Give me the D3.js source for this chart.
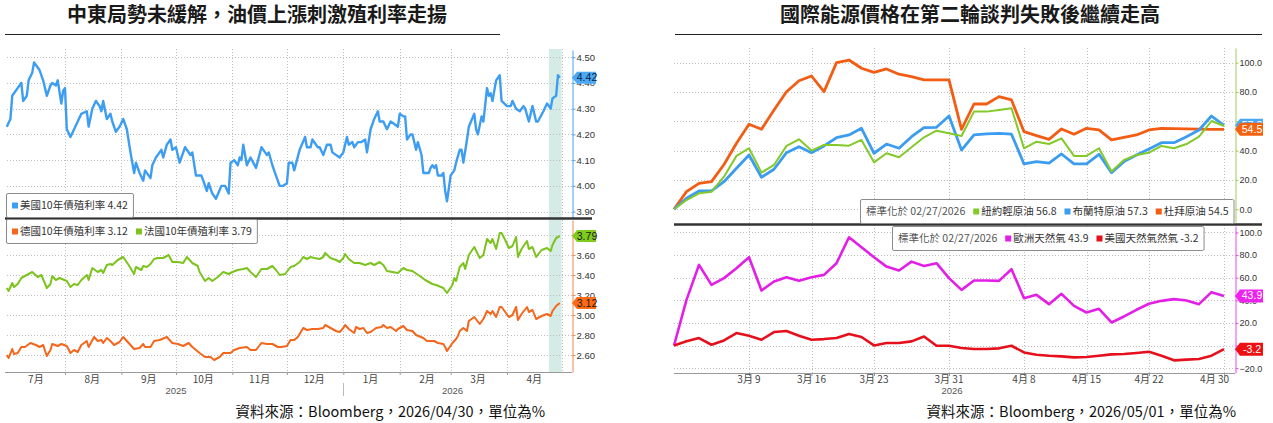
<!DOCTYPE html>
<html>
<head>
<meta charset="utf-8">
<script src="https://cdn.jsdelivr.net/npm/d3@7"></script>
<style>
  body { margin: 0; background: #fff; }
  svg { display: block; }
</style>
</head>
<body>
<script>
// ---------- left chart data (10y yields, %) ----------
const usYield = [
  ["2025-06-30",4.23],["2025-07-02",4.26],["2025-07-03",4.35],["2025-07-08",4.40],["2025-07-09",4.33],["2025-07-11",4.35],
  ["2025-07-12",4.41],["2025-07-14",4.44],["2025-07-15",4.48],["2025-07-17",4.46],["2025-07-18",4.45],["2025-07-20",4.41],
  ["2025-07-22",4.35],["2025-07-24",4.39],["2025-07-25",4.40],["2025-07-27",4.39],["2025-07-28",4.41],["2025-07-30",4.32],
  ["2025-07-31",4.37],["2025-08-01",4.38],["2025-08-02",4.22],["2025-08-04",4.19],["2025-08-06",4.22],["2025-08-08",4.25],
  ["2025-08-10",4.28],["2025-08-13",4.29],["2025-08-14",4.23],["2025-08-16",4.30],["2025-08-18",4.33],["2025-08-20",4.31],
  ["2025-08-21",4.29],["2025-08-22",4.33],["2025-08-24",4.26],["2025-08-26",4.28],["2025-08-27",4.25],["2025-08-29",4.21],
  ["2025-08-31",4.23],["2025-09-02",4.26],["2025-09-04",4.22],["2025-09-06",4.13],["2025-09-08",4.05],["2025-09-09",4.09],
  ["2025-09-11",4.05],["2025-09-13",4.02],["2025-09-14",4.06],["2025-09-17",4.03],["2025-09-18",4.08],["2025-09-20",4.11],
  ["2025-09-23",4.14],["2025-09-24",4.11],["2025-09-26",4.16],["2025-09-28",4.18],["2025-09-29",4.14],["2025-10-01",4.15],
  ["2025-10-03",4.09],["2025-10-06",4.15],["2025-10-09",4.12],["2025-10-10",4.13],["2025-10-12",4.04],["2025-10-15",4.04],
  ["2025-10-16",4.02],["2025-10-18",3.98],["2025-10-19",4.01],["2025-10-21",3.97],["2025-10-23",3.95],["2025-10-26",4.00],
  ["2025-10-28",4.00],["2025-10-30",3.97],["2025-10-31",4.09],["2025-11-02",4.10],["2025-11-04",4.08],["2025-11-05",4.11],
  ["2025-11-06",4.10],["2025-11-07",4.16],["2025-11-09",4.08],["2025-11-11",4.11],["2025-11-14",4.07],["2025-11-17",4.15],
  ["2025-11-19",4.13],["2025-11-20",4.12],["2025-11-21",4.13],["2025-11-23",4.08],["2025-11-25",4.04],["2025-11-27",4.00],
  ["2025-11-29",4.00],["2025-12-01",4.01],["2025-12-02",4.09],["2025-12-04",4.09],["2025-12-05",4.06],["2025-12-08",4.14],
  ["2025-12-11",4.19],["2025-12-12",4.15],["2025-12-14",4.15],["2025-12-15",4.18],["2025-12-18",4.15],["2025-12-19",4.15],
  ["2025-12-21",4.12],["2025-12-23",4.16],["2025-12-25",4.16],["2025-12-26",4.13],["2025-12-30",4.11],["2026-01-01",4.13],
  ["2026-01-03",4.19],["2026-01-04",4.16],["2026-01-06",4.17],["2026-01-07",4.15],["2026-01-09",4.17],["2026-01-11",4.17],
  ["2026-01-13",4.18],["2026-01-14",4.13],["2026-01-16",4.22],["2026-01-18",4.26],["2026-01-20",4.29],["2026-01-21",4.25],
  ["2026-01-23",4.25],["2026-01-25",4.22],["2026-01-27",4.25],["2026-01-29",4.24],["2026-01-31",4.23],["2026-02-01",4.28],
  ["2026-02-03",4.27],["2026-02-04",4.27],["2026-02-05",4.18],["2026-02-07",4.20],["2026-02-08",4.20],["2026-02-10",4.14],
  ["2026-02-11",4.17],["2026-02-13",4.12],["2026-02-14",4.05],["2026-02-17",4.05],["2026-02-18",4.07],["2026-02-19",4.08],
  ["2026-02-20",4.07],["2026-02-21",4.08],["2026-02-22",4.04],["2026-02-24",4.04],["2026-02-25",4.05],["2026-02-26",3.98],
  ["2026-02-27",3.94],["2026-03-01",4.04],["2026-03-03",4.06],["2026-03-04",4.09],["2026-03-06",4.14],["2026-03-07",4.14],
  ["2026-03-08",4.09],["2026-03-10",4.18],["2026-03-11",4.23],["2026-03-14",4.28],["2026-03-15",4.22],["2026-03-16",4.20],
  ["2026-03-18",4.27],["2026-03-19",4.25],["2026-03-21",4.38],["2026-03-22",4.35],["2026-03-23",4.36],["2026-03-24",4.33],
  ["2026-03-26",4.41],["2026-03-28",4.43],["2026-03-29",4.33],["2026-04-01",4.31],["2026-04-03",4.31],["2026-04-04",4.33],
  ["2026-04-06",4.30],["2026-04-08",4.29],["2026-04-10",4.31],["2026-04-11",4.30],["2026-04-13",4.25],["2026-04-15",4.31],
  ["2026-04-17",4.25],["2026-04-18",4.25],["2026-04-21",4.29],["2026-04-23",4.32],["2026-04-25",4.30],["2026-04-26",4.34],
  ["2026-04-28",4.35],["2026-04-29",4.43],["2026-04-30",4.42]
]

const frYield = [
  ["2025-06-30",3.27],["2025-07-01",3.24],["2025-07-03",3.32],["2025-07-04",3.28],["2025-07-06",3.31],["2025-07-08",3.37],
  ["2025-07-11",3.40],["2025-07-14",3.43],["2025-07-17",3.38],["2025-07-19",3.40],["2025-07-22",3.27],["2025-07-24",3.31],
  ["2025-07-25",3.39],["2025-07-27",3.35],["2025-07-29",3.37],["2025-08-02",3.34],["2025-08-04",3.28],["2025-08-06",3.31],
  ["2025-08-08",3.30],["2025-08-10",3.35],["2025-08-13",3.40],["2025-08-14",3.35],["2025-08-16",3.47],["2025-08-19",3.43],
  ["2025-08-21",3.45],["2025-08-22",3.42],["2025-08-24",3.50],["2025-08-26",3.51],["2025-08-27",3.50],["2025-08-30",3.55],
  ["2025-09-02",3.58],["2025-09-05",3.50],["2025-09-08",3.41],["2025-09-09",3.48],["2025-09-12",3.45],["2025-09-13",3.49],
  ["2025-09-15",3.48],["2025-09-17",3.51],["2025-09-19",3.56],["2025-09-21",3.57],["2025-09-24",3.57],["2025-09-27",3.60],
  ["2025-09-29",3.53],["2025-10-02",3.53],["2025-10-05",3.52],["2025-10-07",3.58],["2025-10-10",3.52],["2025-10-13",3.49],
  ["2025-10-14",3.43],["2025-10-17",3.34],["2025-10-19",3.37],["2025-10-21",3.34],["2025-10-24",3.38],["2025-10-27",3.43],
  ["2025-10-30",3.41],["2025-11-01",3.43],["2025-11-04",3.45],["2025-11-07",3.46],["2025-11-09",3.47],["2025-11-11",3.43],
  ["2025-11-14",3.38],["2025-11-17",3.46],["2025-11-20",3.46],["2025-11-23",3.49],["2025-11-25",3.45],["2025-11-27",3.40],
  ["2025-11-30",3.41],["2025-12-03",3.48],["2025-12-05",3.49],["2025-12-08",3.53],["2025-12-10",3.58],["2025-12-12",3.56],
  ["2025-12-14",3.58],["2025-12-16",3.57],["2025-12-19",3.56],["2025-12-21",3.58],["2025-12-22",3.62],["2025-12-25",3.57],
  ["2025-12-28",3.55],["2025-12-30",3.53],["2026-01-01",3.57],["2026-01-02",3.61],["2026-01-04",3.56],["2026-01-07",3.52],
  ["2026-01-10",3.52],["2026-01-13",3.50],["2026-01-16",3.52],["2026-01-18",3.50],["2026-01-21",3.53],["2026-01-23",3.50],
  ["2026-01-25",3.44],["2026-01-28",3.43],["2026-01-31",3.42],["2026-02-03",3.47],["2026-02-05",3.45],["2026-02-08",3.44],
  ["2026-02-12",3.39],["2026-02-15",3.35],["2026-02-19",3.31],["2026-02-21",3.30],["2026-02-25",3.27],["2026-02-27",3.22],
  ["2026-03-02",3.30],["2026-03-03",3.37],["2026-03-04",3.34],["2026-03-06",3.48],["2026-03-08",3.52],["2026-03-09",3.46],
  ["2026-03-11",3.60],["2026-03-14",3.68],["2026-03-17",3.57],["2026-03-19",3.60],["2026-03-21",3.76],["2026-03-23",3.72],
  ["2026-03-24",3.76],["2026-03-26",3.66],["2026-03-28",3.82],["2026-03-29",3.82],["2026-03-31",3.75],["2026-04-02",3.67],
  ["2026-04-04",3.69],["2026-04-06",3.78],["2026-04-07",3.58],["2026-04-09",3.66],["2026-04-12",3.74],["2026-04-13",3.66],
  ["2026-04-15",3.68],["2026-04-17",3.58],["2026-04-20",3.65],["2026-04-23",3.67],["2026-04-25",3.64],["2026-04-26",3.70],
  ["2026-04-28",3.77],["2026-04-30",3.79]
]

const deYield = [
  ["2025-06-30",2.60],["2025-07-01",2.57],["2025-07-03",2.66],["2025-07-04",2.61],["2025-07-06",2.62],["2025-07-08",2.68],
  ["2025-07-10",2.68],["2025-07-13",2.72],["2025-07-16",2.70],["2025-07-18",2.68],["2025-07-20",2.70],["2025-07-22",2.59],
  ["2025-07-24",2.65],["2025-07-25",2.71],["2025-07-28",2.69],["2025-07-30",2.71],["2025-08-02",2.69],["2025-08-04",2.62],
  ["2025-08-06",2.65],["2025-08-08",2.63],["2025-08-10",2.70],["2025-08-13",2.74],["2025-08-14",2.68],["2025-08-17",2.78],
  ["2025-08-19",2.74],["2025-08-21",2.75],["2025-08-22",2.72],["2025-08-24",2.77],["2025-08-26",2.74],["2025-08-28",2.70],
  ["2025-08-31",2.73],["2025-09-02",2.78],["2025-09-05",2.72],["2025-09-08",2.66],["2025-09-11",2.67],["2025-09-13",2.71],
  ["2025-09-14",2.68],["2025-09-17",2.68],["2025-09-19",2.74],["2025-09-22",2.75],["2025-09-26",2.78],["2025-09-29",2.72],
  ["2025-10-02",2.71],["2025-10-05",2.69],["2025-10-08",2.72],["2025-10-10",2.68],["2025-10-14",2.62],["2025-10-17",2.58],
  ["2025-10-20",2.58],["2025-10-22",2.55],["2025-10-25",2.58],["2025-10-27",2.62],["2025-10-31",2.62],["2025-11-02",2.65],
  ["2025-11-05",2.67],["2025-11-09",2.68],["2025-11-11",2.65],["2025-11-14",2.65],["2025-11-17",2.72],["2025-11-20",2.71],
  ["2025-11-23",2.71],["2025-11-26",2.68],["2025-11-28",2.68],["2025-12-01",2.69],["2025-12-03",2.75],["2025-12-05",2.75],
  ["2025-12-07",2.78],["2025-12-10",2.87],["2025-12-12",2.85],["2025-12-15",2.86],["2025-12-18",2.86],["2025-12-21",2.87],
  ["2025-12-22",2.90],["2025-12-25",2.87],["2025-12-28",2.84],["2025-12-30",2.83],["2026-01-01",2.87],["2026-01-02",2.90],
  ["2026-01-04",2.86],["2026-01-07",2.82],["2026-01-08",2.88],["2026-01-10",2.86],["2026-01-12",2.87],["2026-01-14",2.82],
  ["2026-01-16",2.83],["2026-01-19",2.87],["2026-01-22",2.88],["2026-01-23",2.90],["2026-01-25",2.87],["2026-01-27",2.88],
  ["2026-01-30",2.84],["2026-01-31",2.86],["2026-02-03",2.89],["2026-02-05",2.85],["2026-02-08",2.84],["2026-02-10",2.80],
  ["2026-02-14",2.77],["2026-02-16",2.74],["2026-02-20",2.74],["2026-02-22",2.72],["2026-02-25",2.71],["2026-02-26",2.68],
  ["2026-02-27",2.64],["2026-03-02",2.72],["2026-03-04",2.76],["2026-03-05",2.79],["2026-03-06",2.84],["2026-03-08",2.87],
  ["2026-03-10",2.84],["2026-03-11",2.94],["2026-03-14",2.98],["2026-03-17",2.91],["2026-03-19",2.96],["2026-03-21",3.04],
  ["2026-03-23",3.01],["2026-03-24",3.04],["2026-03-26",2.98],["2026-03-28",3.08],["2026-03-29",3.08],["2026-03-31",3.03],
  ["2026-04-02",2.98],["2026-04-04",3.00],["2026-04-06",3.08],["2026-04-07",2.95],["2026-04-09",3.01],["2026-04-12",3.08],
  ["2026-04-13",3.03],["2026-04-15",3.05],["2026-04-17",2.96],["2026-04-20",2.99],["2026-04-23",3.01],["2026-04-25",2.99],
  ["2026-04-26",3.04],["2026-04-28",3.09],["2026-04-30",3.12]
]

const usTicks = [3.9, 4.0, 4.1, 4.2, 4.3, 4.4, 4.5]
const euTicks = [2.6, 2.8, 3.0, 3.2, 3.4, 3.6, 3.8]
const monthLabels = ['7月', '8月', '9月', '10月', '11月', '12月', '1月', '2月', '3月', '4月']

// ---------- right chart data (normalised to 02/27/2026, %) ----------
const oilDates = [
  "2026-02-27",
  "2026-03-02","2026-03-03","2026-03-04","2026-03-05","2026-03-06",
  "2026-03-09","2026-03-10","2026-03-11","2026-03-12","2026-03-13",
  "2026-03-16","2026-03-17","2026-03-18","2026-03-19","2026-03-20",
  "2026-03-23","2026-03-24","2026-03-25","2026-03-26","2026-03-27",
  "2026-03-30","2026-03-31","2026-04-01","2026-04-02","2026-04-03",
  "2026-04-06","2026-04-07","2026-04-08","2026-04-09","2026-04-10",
  "2026-04-13","2026-04-14","2026-04-15","2026-04-16","2026-04-17",
  "2026-04-20","2026-04-21","2026-04-22","2026-04-23","2026-04-24",
  "2026-04-27","2026-04-28","2026-04-29","2026-04-30"
]
const wti = [0,6.3,10.9,12,22.2,36.4,41.6,25,30.2,43.2,47.7,40,43.9,43.9,43.4,47.3,32,38.2,35.5,42.3,49.1,53.6,51.8,50,
  66.6,66.6,67.7,68.9,41.6,46.1,44.5,48.4,36.4,36.4,41.6,25.7,33.6,37,38.6,43.2,41.6,44.5,49.5,60.2,56.8]
const brent = [0,7.5,12.5,12.5,18.8,28,37,21.8,27.3,38.6,42.7,38.6,43.2,48.8,50.7,55.2,38.2,44.5,41.6,49.5,55.7,55.9,63.6,40.4,
  50.7,51.4,51.8,51.2,30.9,32.5,31.4,37.7,30.9,30.9,37.5,25,32.5,37,41.1,45.4,45.4,49.5,54.1,63.6,57.3]
const dubai = [0,12,17.7,18.8,30.5,45,58,54.6,67.7,80.2,87.7,90.9,80.2,100,101.8,96.2,93.4,95.7,92.1,90.5,88.2,88.2,88.2,54.5,
  71.8,71.8,76.8,74.6,52.9,50.2,47.7,54.8,51.2,55.2,54.1,47.3,49.1,50.7,54.1,55.2,55,54.8,54.6,54.5,54.5]
const euGas = [0,40.4,71.3,53.6,59.6,68.4,78.1,48.6,56.6,60.4,57.2,60.4,62.5,72.8,95.7,86.9,78.1,69.8,66.3,74.2,70.4,72.8,59.6,49.2,
  57.5,57.5,57.2,67.5,41.9,44.8,36.6,45.7,35.1,29.2,32.5,20.4,25.7,31.6,36.9,39.5,41,39.8,36.6,47.2,43.9]
const usGas = [0,3.7,6.6,0.7,4.5,11,8.6,5.1,11.9,12.8,8.6,5.1,5.7,6.6,10.1,7.5,0.1,2.2,2.2,3.7,8,-0.2,-0.2,-2.2,
  -3.1,-3.1,-2.5,-0.2,-6.1,-8.1,-9,-9.6,-10.5,-10.2,-9,-7.8,-7.5,-6.6,-5.5,-9,-13.1,-12.5,-11.9,-9,-3.2]

const oilTicks = [0, 20, 40, 60, 80, 100]
const gasTicks = [-20, 0, 20, 40, 60, 80, 100]
const oilTickDates = ["2026-03-09","2026-03-16","2026-03-23","2026-03-31","2026-04-08","2026-04-15","2026-04-22","2026-04-30"]
const oilTickLabels = ['3月 9', '3月 16', '3月 23', '3月 31', '4月 8', '4月 15', '4月 22', '4月 30']


const FONT = '"Noto Sans CJK TC", "Noto Sans", sans-serif'
const NUM_FONT = '"Liberation Sans", Arial, sans-serif'
const GRID = '#bfbfbf'

const parse = d3.timeParse('%Y-%m-%d')
const toPoints = rows => rows.map(r => ({date: parse(r[0]), value: r[1]}))

const svg = d3.select('body').append('svg')
    .attr('width', 1273)
    .attr('height', 423)


function drawTitle(text, cx, x0, x1){
    svg.append('text')
        .attr('x', cx).attr('y', 22)
        .attr('text-anchor', 'middle')
        .style('font-family', FONT)
        .style('font-size', '20px')
        .style('font-weight', 700)
        .attr('fill', '#1a1a1a')
        .text(text)
    svg.append('line')
        .attr('x1', x0).attr('x2', x1)
        .attr('y1', 34.5).attr('y2', 34.5)
        .attr('stroke', '#222').attr('stroke-width', 1.2)
}

function hGrid(y, ticks, x0, x1){
    svg.append('g').selectAll('line')
        .data(ticks)
        .join('line')
        .attr('x1', x0).attr('x2', x1)
        .attr('y1', d => Math.round(y(d)) + 0.5)
        .attr('y2', d => Math.round(y(d)) + 0.5)
        .attr('stroke', GRID)
        .attr('stroke-dasharray', '1,2')
}

function vGrid(xs, y0, y1){
    svg.append('g').selectAll('line')
        .data(xs)
        .join('line')
        .attr('x1', d => Math.round(d) + 0.5).attr('x2', d => Math.round(d) + 0.5)
        .attr('y1', y0).attr('y2', y1)
        .attr('stroke', GRID)
        .attr('stroke-dasharray', '1,2')
}

function rightAxis(y, ticks, x, color, fmt, size){
    const g = svg.append('g')
        .attr('transform', `translate(${x + 0.5},0)`)
        .call(d3.axisRight(y).tickValues(ticks).tickSize(3).tickSizeOuter(0).tickPadding(1).tickFormat(fmt))
    g.select('.domain').attr('stroke', color)
    g.selectAll('.tick line').attr('stroke', color)
    g.selectAll('.tick text')
        .attr('fill', '#333')
        .style('font-family', NUM_FONT)
        .style('font-size', size + 'px')
}

function drawSeries(points, x, y, color, width){
    const line = d3.line()
        .x(d => x(d.date))
        .y(d => y(d.value))
    svg.append('path')
        .datum(points)
        .attr('d', line)
        .attr('fill', 'none')
        .attr('stroke', color)
        .attr('stroke-width', width)
        .attr('stroke-linejoin', 'round')
}

function valueTag(x, y, label, fill, textColor, w, h){
    svg.append('path')
        .attr('d', `M${x},${y} L${x + 5},${y - h / 2} L${x + w},${y - h / 2} L${x + w},${y + h / 2} L${x + 5},${y + h / 2} Z`)
        .attr('fill', fill)
    svg.append('text')
        .attr('x', x + 3 + w / 2).attr('y', y + 3.6)
        .attr('text-anchor', 'middle')
        .style('font-family', NUM_FONT)
        .style('font-size', '10.5px')
        .attr('fill', textColor)
        .text(label)
}

function legend(x, y, h, items, note){
    const g = svg.append('g')
    const box = g.append('rect')
        .attr('x', x + 0.5).attr('y', y + 0.5)
        .attr('height', h)
        .attr('rx', 1.5)
        .attr('fill', '#fff')
        .attr('stroke', '#8c8c8c')
    let cx = x + 6
    const base = y + h / 2 + 4
    if(note){
        const t = g.append('text')
            .attr('x', cx).attr('y', base)
            .style('font-family', FONT).style('font-size', '10.5px')
            .attr('fill', '#555')
            .text(note)
        cx += t.node().getComputedTextLength() + 8
    }
    items.forEach(it => {
        g.append('rect')
            .attr('x', cx).attr('y', y + h / 2 - 2.5)
            .attr('width', 6).attr('height', 6)
            .attr('fill', it.color)
        const t = g.append('text')
            .attr('x', cx + 8).attr('y', base)
            .style('font-family', FONT).style('font-size', '10.5px')
            .attr('fill', '#333')
            .text(it.label)
        cx += 8 + t.node().getComputedTextLength() + 8
    })
    box.attr('width', cx - x - 3)
}

function source(text, x){
    svg.append('text')
        .attr('x', x).attr('y', 417)
        .attr('text-anchor', 'end')
        .style('font-family', FONT)
        .style('font-size', '14.5px')
        .attr('fill', '#111')
        .text(text)
}


// ================= left chart =================
const US_BLUE = '#3d9df2'
const FR_GREEN = '#7cc31e'
const DE_ORANGE = '#f4661b'

const xL = d3.scaleTime()
    .domain([new Date(2025, 6, 1), new Date(2026, 4, 1)])
    .range([8.6, 561.6])
const yUS = d3.scaleLinear().domain([3.875, 4.528]).range([218, 50])
const yEU = d3.scaleLinear().domain([2.43, 3.95]).range([372, 220])

drawTitle('中東局勢未緩解，油價上漲刺激殖利率走揚', 257, 5, 500)

// highlighted last week
svg.append('rect')
    .attr('x', xL(parse('2026-04-24'))).attr('y', 49)
    .attr('width', xL(new Date(2026, 4, 1)) - xL(parse('2026-04-24')))
    .attr('height', 372 - 49)
    .attr('fill', '#d4ebe6')

const monthStarts = d3.timeMonth.range(new Date(2025, 6, 1), new Date(2026, 4, 2))
vGrid(monthStarts.slice(1).map(xL), 49, 372)
hGrid(yUS, usTicks, 7, 572)
hGrid(yEU, euTicks, 7, 572)

drawSeries(toPoints(usYield), xL, yUS, US_BLUE, 2.4)
drawSeries(toPoints(frYield), xL, yEU, FR_GREEN, 2)
drawSeries(toPoints(deYield), xL, yEU, DE_ORANGE, 2)

rightAxis(yUS, usTicks, 572, '#4aa3f0', d3.format('.2f'), 9.5)
rightAxis(yEU, euTicks, 572, '#f08a50', d3.format('.2f'), 9.5)

// panel separator
svg.append('line')
    .attr('x1', 5).attr('x2', 592)
    .attr('y1', 218.5).attr('y2', 218.5)
    .attr('stroke', '#333').attr('stroke-width', 2.5)

// bottom time axis
const xAxisL = svg.append('g')
    .attr('transform', 'translate(0,372)')
    .call(d3.axisBottom(xL).tickValues(monthStarts.slice(1, -1)).tickSize(3).tickSizeOuter(0).tickFormat(''))
xAxisL.select('.domain').attr('stroke', '#999').attr('d', 'M5,0.5H572')
xAxisL.selectAll('.tick line').attr('stroke', '#999')

svg.append('g').selectAll('text')
    .data(monthLabels)
    .join('text')
    .attr('x', (d, i) => xL(d3.timeDay.offset(monthStarts[i], 15)))
    .attr('y', 383)
    .attr('text-anchor', 'middle')
    .style('font-family', FONT).style('font-size', '10px')
    .attr('fill', '#444')
    .text(d => d)

const yearSpans = [
    {label: '2025', from: new Date(2025, 6, 1), to: new Date(2026, 0, 1)},
    {label: '2026', from: new Date(2026, 0, 1), to: new Date(2026, 4, 1)}
]
svg.append('g').selectAll('text')
    .data(yearSpans)
    .join('text')
    .attr('x', d => (xL(d.from) + xL(d.to)) / 2)
    .attr('y', 394)
    .attr('text-anchor', 'middle')
    .style('font-family', NUM_FONT).style('font-size', '9.5px')
    .attr('fill', '#555')
    .text(d => d.label)
svg.append('line')
    .attr('x1', Math.round(xL(new Date(2026, 0, 1))) + 0.5).attr('x2', Math.round(xL(new Date(2026, 0, 1))) + 0.5)
    .attr('y1', 383).attr('y2', 396)
    .attr('stroke', '#bbb')

legend(6, 193, 24, [{label: '美國10年債殖利率 4.42', color: US_BLUE}])
legend(6, 219, 24, [
    {label: '德國10年債殖利率 3.12', color: DE_ORANGE},
    {label: '法國10年債殖利率 3.79', color: FR_GREEN}
])

valueTag(572, yUS(usYield[usYield.length - 1][1]), '4.42', '#4aa8f5', '#0d2340', 24, 12)
valueTag(572, yEU(frYield[frYield.length - 1][1]), '3.79', '#7fcc1c', '#1a1a1a', 24, 12)
valueTag(572, yEU(deYield[deYield.length - 1][1]), '3.12', '#ff6a15', '#1a1a1a', 24, 12)

source('資料來源：Bloomberg，2026/04/30，單位為%', 545)


// ================= right chart =================
const WTI_GREEN = '#83c92a'
const BRENT_BLUE = '#3b9cf0'
const DUBAI_ORANGE = '#f35d13'
const EU_MAGENTA = '#e31ee6'
const US_RED = '#e5101b'

const xR = d3.scalePoint().domain(oilDates).range([674, 1224])
const yOil = d3.scaleLinear().domain([-8.7, 110]).range([222, 48])
const yGas = d3.scaleLinear().domain([-24.3, 105.7]).range([373, 226])

const byIndex = values => values.map((v, i) => ({date: oilDates[i], value: v}))

drawTitle('國際能源價格在第二輪談判失敗後繼續走高', 970, 675, 1262)

vGrid(oilTickDates.map(xR), 48, 373)
hGrid(yOil, oilTicks, 674, 1235)
hGrid(yGas, gasTicks, 674, 1235)

drawSeries(byIndex(dubai), xR, yOil, DUBAI_ORANGE, 2.8)
drawSeries(byIndex(brent), xR, yOil, BRENT_BLUE, 2.8)
drawSeries(byIndex(wti), xR, yOil, WTI_GREEN, 2)
drawSeries(byIndex(euGas), xR, yGas, EU_MAGENTA, 2.6)
drawSeries(byIndex(usGas), xR, yGas, US_RED, 2.6)

rightAxis(yOil, oilTicks, 1235, '#9ccf5a', d3.format('.1f'), 9)
rightAxis(yGas, gasTicks, 1235, '#e84ce8', d3.format('.1f'), 9)

svg.append('line')
    .attr('x1', 674).attr('x2', 1262)
    .attr('y1', 224.5).attr('y2', 224.5)
    .attr('stroke', '#333').attr('stroke-width', 2.5)

const xAxisR = svg.append('g')
    .attr('transform', 'translate(0,373)')
    .call(d3.axisBottom(xR).tickValues(oilTickDates).tickSize(3).tickSizeOuter(0).tickFormat(''))
xAxisR.select('.domain').attr('stroke', '#999').attr('d', 'M674,0.5H1235')
xAxisR.selectAll('.tick line').attr('stroke', '#999')

svg.append('g').selectAll('text')
    .data(oilTickLabels)
    .join('text')
    .attr('x', (d, i) => xR(oilTickDates[i]))
    .attr('y', 383)
    .attr('text-anchor', 'middle')
    .style('font-family', FONT).style('font-size', '10px')
    .attr('fill', '#444')
    .text(d => d)
    .each(function(){
        // keep the last label clear of the value axis
        const t = d3.select(this)
        const w = this.getComputedTextLength()
        const cx = +t.attr('x')
        if(cx + w / 2 > 1229){ t.attr('x', 1229 - w / 2) }
    })

svg.append('text')
    .attr('x', xR('2026-03-31') + 3).attr('y', 394)
    .attr('text-anchor', 'middle')
    .style('font-family', NUM_FONT).style('font-size', '9.5px')
    .attr('fill', '#555')
    .text('2026')

legend(860, 199, 24, [
    {label: '紐約輕原油 56.8', color: WTI_GREEN},
    {label: '布蘭特原油 57.3', color: BRENT_BLUE},
    {label: '杜拜原油 54.5', color: DUBAI_ORANGE}
], '標準化於 02/27/2026')
legend(892, 226, 24, [
    {label: '歐洲天然氣 43.9', color: EU_MAGENTA},
    {label: '美國天然氣然氣 -3.2', color: US_RED}
], '標準化於 02/27/2026')

// the WTI tag sits fully behind these two in the reference, so only these show
valueTag(1235, yOil(brent[brent.length - 1]), '57.3', '#4aa8f5', '#fff', 28, 13)
valueTag(1235, yOil(dubai[dubai.length - 1]), '54.5', '#f4620f', '#fff', 28, 13)
valueTag(1235, yGas(euGas[euGas.length - 1]), '43.9', '#ee22ee', '#fff', 28, 13)
valueTag(1235, yGas(usGas[usGas.length - 1]), '-3.2', '#ee1111', '#fff', 28, 13)

source('資料來源：Bloomberg，2026/05/01，單位為%', 1236)
</script>
</body>
</html>
